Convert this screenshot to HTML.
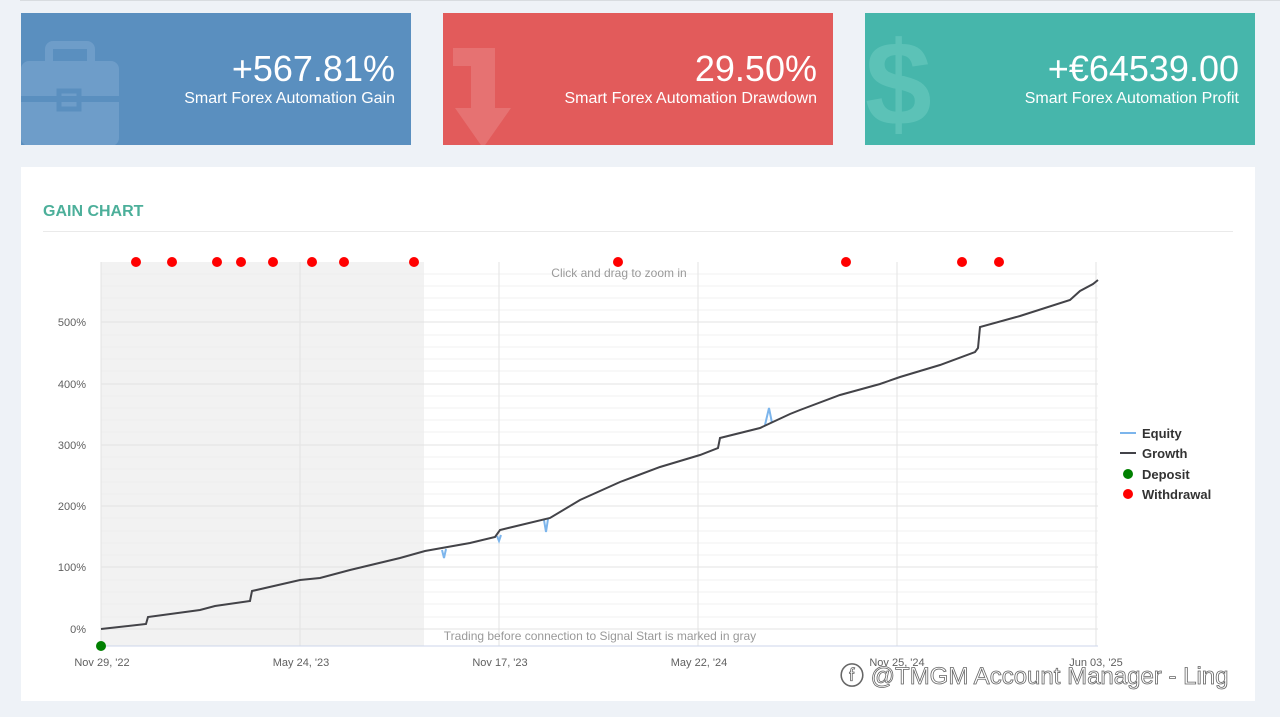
<!DOCTYPE html><html><head><style>
body{margin:0;width:1280px;height:717px;background:#eef2f7;font-family:"Liberation Sans",sans-serif;position:relative;overflow:hidden}
.card{position:absolute;top:13px;height:132px;width:390px;color:#fff;text-align:right}
.card .v{position:absolute;right:16px;top:36px;font-size:36px;line-height:40px}
.card .l{position:absolute;right:16px;top:76px;font-size:16px;line-height:20px}
.panel{position:absolute;left:21px;top:167px;width:1234px;height:534px;background:#fff}
</style></head><body>
<div style="position:absolute;left:20px;top:0;width:1260px;height:1px;background:#d8dce0"></div>
<div class="card" style="left:21px;background:#5a8fbf"><svg width="120" height="132" style="position:absolute;left:0;top:0"><rect x="0" y="48" width="98" height="85" rx="8" fill="#6e9dc9"/><rect x="28" y="32" width="42" height="22" rx="4" fill="none" stroke="#6e9dc9" stroke-width="8"/><rect x="0" y="83" width="98" height="6" fill="#5a8fbf"/><rect x="38" y="78" width="20" height="18" fill="none" stroke="#5a8fbf" stroke-width="5"/></svg><div class="v">+567.81%</div><div class="l">Smart Forex Automation Gain</div></div>
<div class="card" style="left:443px;background:#e25b5b"><svg width="120" height="132" style="position:absolute;left:0;top:0"><path d="M0 35 H42 V95 H58 L30 135 L2 95 H18 V53 H0Z" fill="#e67272" transform="translate(10,0)"/></svg><div class="v">29.50%</div><div class="l">Smart Forex Automation Drawdown</div></div>
<div class="card" style="left:865px;background:#46b6ab"><div style="position:absolute;left:0;top:2px;font-size:120px;color:#5cc2b7;font-weight:bold">$</div><div class="v">+€64539.00</div><div class="l">Smart Forex Automation Profit</div></div>
<div class="panel"><div style="position:absolute;left:22px;top:36px;font-size:16px;font-weight:bold;color:#4caf9a">GAIN CHART</div><div style="position:absolute;left:22px;top:64px;width:1190px;height:1px;background:#eaeaea"></div></div>
<svg width="1280" height="717" style="position:absolute;left:0;top:0" font-family="Liberation Sans,sans-serif">
<rect x="101" y="262" width="323" height="384" fill="#f2f2f2"/>
<g stroke="#ebebeb" stroke-width="1" opacity="0.6">
<line x1="101" x2="1098" y1="274" y2="274"/><line x1="101" x2="1098" y1="286" y2="286"/><line x1="101" x2="1098" y1="298" y2="298"/><line x1="101" x2="1098" y1="310" y2="310"/>
<line x1="101" x2="1098" y1="335" y2="335"/><line x1="101" x2="1098" y1="347" y2="347"/><line x1="101" x2="1098" y1="359" y2="359"/><line x1="101" x2="1098" y1="371" y2="371"/>
<line x1="101" x2="1098" y1="396" y2="396"/><line x1="101" x2="1098" y1="408" y2="408"/><line x1="101" x2="1098" y1="420" y2="420"/><line x1="101" x2="1098" y1="432" y2="432"/>
<line x1="101" x2="1098" y1="457" y2="457"/><line x1="101" x2="1098" y1="469" y2="469"/><line x1="101" x2="1098" y1="482" y2="482"/><line x1="101" x2="1098" y1="494" y2="494"/>
<line x1="101" x2="1098" y1="518" y2="518"/><line x1="101" x2="1098" y1="531" y2="531"/><line x1="101" x2="1098" y1="543" y2="543"/><line x1="101" x2="1098" y1="555" y2="555"/>
<line x1="101" x2="1098" y1="580" y2="580"/><line x1="101" x2="1098" y1="592" y2="592"/><line x1="101" x2="1098" y1="604" y2="604"/><line x1="101" x2="1098" y1="617" y2="617"/>
</g>
<g stroke="#e3e3e3"><line x1="101" x2="1098" y1="322" y2="322"/><line x1="101" x2="1098" y1="384" y2="384"/><line x1="101" x2="1098" y1="445" y2="445"/><line x1="101" x2="1098" y1="506" y2="506"/><line x1="101" x2="1098" y1="567" y2="567"/><line x1="101" x2="1098" y1="629" y2="629"/>
<line x1="101" x2="101" y1="262" y2="646"/><line x1="300" x2="300" y1="262" y2="646"/><line x1="499" x2="499" y1="262" y2="646"/><line x1="698" x2="698" y1="262" y2="646"/><line x1="897" x2="897" y1="262" y2="646"/><line x1="1096" x2="1096" y1="262" y2="646"/></g>
<line x1="101" x2="1098" y1="646" y2="646" stroke="#ccd6eb"/>
<g font-size="11" fill="#606060" text-anchor="end"><text x="86" y="326">500%</text><text x="86" y="388">400%</text><text x="86" y="449">300%</text><text x="86" y="510">200%</text><text x="86" y="571">100%</text><text x="86" y="633">0%</text></g>
<g font-size="11" fill="#606060" text-anchor="middle"><text x="102" y="666">Nov 29, '22</text><text x="301" y="666">May 24, '23</text><text x="500" y="666">Nov 17, '23</text><text x="699" y="666">May 22, '24</text><text x="897" y="666">Nov 25, '24</text><text x="1096" y="666">Jun 03, '25</text></g>
<text x="619" y="277" font-size="12" fill="#999" text-anchor="middle">Click and drag to zoom in</text>
<text x="600" y="640" font-size="12" fill="#999" text-anchor="middle">Trading before connection to Signal Start is marked in gray</text>
<path d="M442 550 L444 558 L446 549 M497 536 L499 541 L501 535 M544 520 L546 532 L548 519 M765 425 L769 408 L772 423" stroke="#7cb5ec" stroke-width="2" fill="none"/>
<polyline fill="none" stroke="#434348" stroke-width="2" points="101,629 146,624 148,617 200,610 215,606 250,601 252,591 300,580 320,578 350,570 400,558 425,551 470,543 495,537 500,530 550,518 580,500 620,482 660,467 700,455 718,448 720,438 760,428 790,414 800,410 840,395 880,384 900,377 940,365 975,352 978,348 980,327 1020,316 1070,300 1080,291 1093,284 1098,280"/>
<g fill="#ff0000"><circle cx="136" cy="262" r="5"/><circle cx="172" cy="262" r="5"/><circle cx="217" cy="262" r="5"/><circle cx="241" cy="262" r="5"/><circle cx="273" cy="262" r="5"/><circle cx="312" cy="262" r="5"/><circle cx="344" cy="262" r="5"/><circle cx="414" cy="262" r="5"/><circle cx="618" cy="262" r="5"/><circle cx="846" cy="262" r="5"/><circle cx="962" cy="262" r="5"/><circle cx="999" cy="262" r="5"/></g>
<circle cx="101" cy="646" r="5" fill="#008000"/>
<g font-size="13" font-weight="bold" fill="#333"><line x1="1120" x2="1136" y1="433" y2="433" stroke="#7cb5ec" stroke-width="2"/><text x="1142" y="438">Equity</text>
<line x1="1120" x2="1136" y1="453" y2="453" stroke="#434348" stroke-width="2"/><text x="1142" y="458">Growth</text>
<circle cx="1128" cy="474" r="5" fill="#008000"/><text x="1142" y="479">Deposit</text>
<circle cx="1128" cy="494" r="5" fill="#ff0000"/><text x="1142" y="499">Withdrawal</text></g>
<text x="840" y="684" font-size="24" fill="#fff" stroke="#666" stroke-width="0.8">ⓕ @TMGM Account Manager - Ling</text>
</svg>
</body></html>
